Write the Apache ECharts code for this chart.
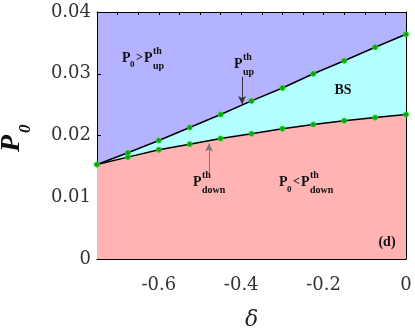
<!DOCTYPE html>
<html>
<head>
<meta charset="utf-8">
<script src="https://cdn.jsdelivr.net/npm/echarts@6/dist/echarts.min.js"></script>
<style>
  html, body { margin: 0; padding: 0; background: #fff; }
  #chart { width: 415px; height: 331px; }
</style>
</head>
<body>
<div id="chart"></div>
<script>
// delta values where the thresholds were computed
const deltaVals = [-0.75, -0.675, -0.6, -0.525, -0.45, -0.375, -0.3, -0.225, -0.15, -0.075, 0]
// upper threshold P_up^th
const pUp = [0.0153, 0.0172, 0.0192, 0.0213, 0.0234, 0.0256, 0.0277, 0.0300, 0.0321, 0.0343, 0.0364]
// lower threshold P_down^th
const pDown = [0.0153, 0.0165, 0.0177, 0.0186, 0.0195, 0.0203, 0.0211, 0.0218, 0.0224, 0.0229, 0.0234]
// labelled ticks
const xTickLabels = [-0.6, -0.4, -0.2, 0]
const yTickLabels = [0, 0.01, 0.02, 0.03, 0.04]

const serif = 'DejaVu Serif'
const boldSerif = 'Liberation Serif'

const chart = echarts.init(document.getElementById('chart'))

function pair(xs, ys) {
  return xs.map((x, i) => [x, ys[i]])
}

function txt(x, y, text, size, italic) {
  return {
    type: 'text', x: x, y: y, z: 100,
    style: { text: text, font: (italic ? 'italic ' : '') + 'bold ' + size + 'px ' + boldSerif, fill: '#111', verticalAlign: 'middle' }
  }
}

// P with stacked super/subscript, as bold serif text
function pLabel(left, cy, sup, sub) {
  const kids = [txt(left, cy, 'P', 14)]
  if (sup) kids.push(txt(left + 9, cy - 7, sup, 10))
  if (sub) kids.push(txt(left + 9, cy + 8, sub, 10))
  return kids
}

const dotStyle = { color: '#1f961f', borderColor: '#10e010', borderWidth: 1 }

const option = {
  animation: false,
  grid: {
    left: 97, right: 9, top: 12, bottom: 72,
    outerBoundsMode: 'none',
    show: true, backgroundColor: '#b3b3ff', borderWidth: 0
  },
  xAxis: [{
    type: 'value', min: -0.75, max: 0, interval: 0.05,
    axisLine: { show: true, onZero: false, lineStyle: { color: '#000', width: 1 } },
    axisTick: { inside: true, length: 3, lineStyle: { color: '#000' } },
    axisLabel: {
      customValues: xTickLabels,
      margin: 17,
      fontFamily: serif, fontSize: 18, color: '#333',
      formatter: v => (v < 0 ? '-' : '') + String(Math.abs(v))
    },
    splitLine: { show: false },
    name: 'δ', nameLocation: 'middle', nameGap: 50,
    nameTextStyle: { fontFamily: serif, fontStyle: 'italic', fontSize: 22, color: '#222' }
  }, {
    type: 'value', min: -0.75, max: 0, interval: 0.05, position: 'top',
    axisLine: { show: true, onZero: false, lineStyle: { color: '#000', width: 1 } },
    axisTick: { inside: true, length: 3, lineStyle: { color: '#000' } },
    axisLabel: { show: false },
    splitLine: { show: false }
  }],
  yAxis: [{
    type: 'value', min: 0, max: 0.04, interval: 0.01,
    axisLine: { show: true, onZero: false, lineStyle: { color: '#000', width: 1 } },
    axisTick: { inside: true, length: 4, lineStyle: { color: '#000' } },
    axisLabel: {
      margin: 6, fontFamily: serif, fontSize: 18, color: '#333',
      formatter: v => yTickLabels.includes(+v.toFixed(2)) ? String(+v.toFixed(2)) : ''
    },
    splitLine: { show: false }
  }, {
    type: 'value', min: 0, max: 0.04, interval: 0.01, position: 'right',
    axisLine: { show: true, onZero: false, lineStyle: { color: '#000', width: 1 } },
    axisTick: { inside: true, length: 4, lineStyle: { color: '#000' } },
    axisLabel: { show: false },
    splitLine: { show: false }
  }],
  series: [{
    name: 'upper', type: 'line', data: pair(deltaVals, pUp),
    lineStyle: { color: '#000', width: 1.5 },
    areaStyle: { color: '#b3ffff', opacity: 1 },
    symbol: 'circle', symbolSize: 5, itemStyle: dotStyle, z: 3,
    markLine: {
      silent: true, symbol: ['none', 'arrow'], symbolSize: [6, 8],
      lineStyle: { color: '#333', width: 1, type: 'solid' },
      label: { show: false },
      data: [[{ coord: [-0.398, 0.0295] }, { coord: [-0.398, 0.0251] }]]
    }
  }, {
    name: 'lower', type: 'line', data: pair(deltaVals, pDown),
    lineStyle: { color: '#000', width: 1.5 },
    areaStyle: { color: '#ffb3b3', opacity: 1 },
    symbol: 'circle', symbolSize: 5, itemStyle: dotStyle, z: 4,
    markLine: {
      silent: true, symbol: ['none', 'arrow'], symbolSize: [6, 8],
      lineStyle: { color: '#777', width: 1, type: 'solid' },
      label: { show: false },
      data: [[{ coord: [-0.478, 0.0139] }, { coord: [-0.478, 0.0187] }]]
    }
  }],
  graphic: [
    // y-axis title P_0, rotated
    {
      type: 'group', x: 12, y: 137, rotation: Math.PI / 2,
      children: [txt(-15, 0, 'P', 28, true), txt(4, 14, '0', 17, true)]
    },
    { type: 'group', children: pLabel(122, 58).concat([txt(130, 65, '0', 9), txt(136, 58, '>', 12)], pLabel(144, 58, 'th', 'up')) },
    { type: 'group', children: pLabel(234, 64, 'th', 'up') },
    { type: 'group', children: pLabel(193, 182, 'th', 'down') },
    { type: 'group', children: pLabel(279, 182).concat([txt(287, 190, '0', 9), txt(293, 182, '<', 12)], pLabel(301, 182, 'th', 'down')) },
    { type: 'text', z: 100, x: 343, y: 90, style: { text: 'BS', font: 'bold 14px ' + boldSerif, fill: '#111', align: 'center', verticalAlign: 'middle' } },
    { type: 'text', z: 100, x: 387, y: 242, style: { text: '(d)', font: 'bold 14px ' + boldSerif, fill: '#111', align: 'center', verticalAlign: 'middle' } }
  ]
}

chart.setOption(option)
</script>
</body>
</html>
